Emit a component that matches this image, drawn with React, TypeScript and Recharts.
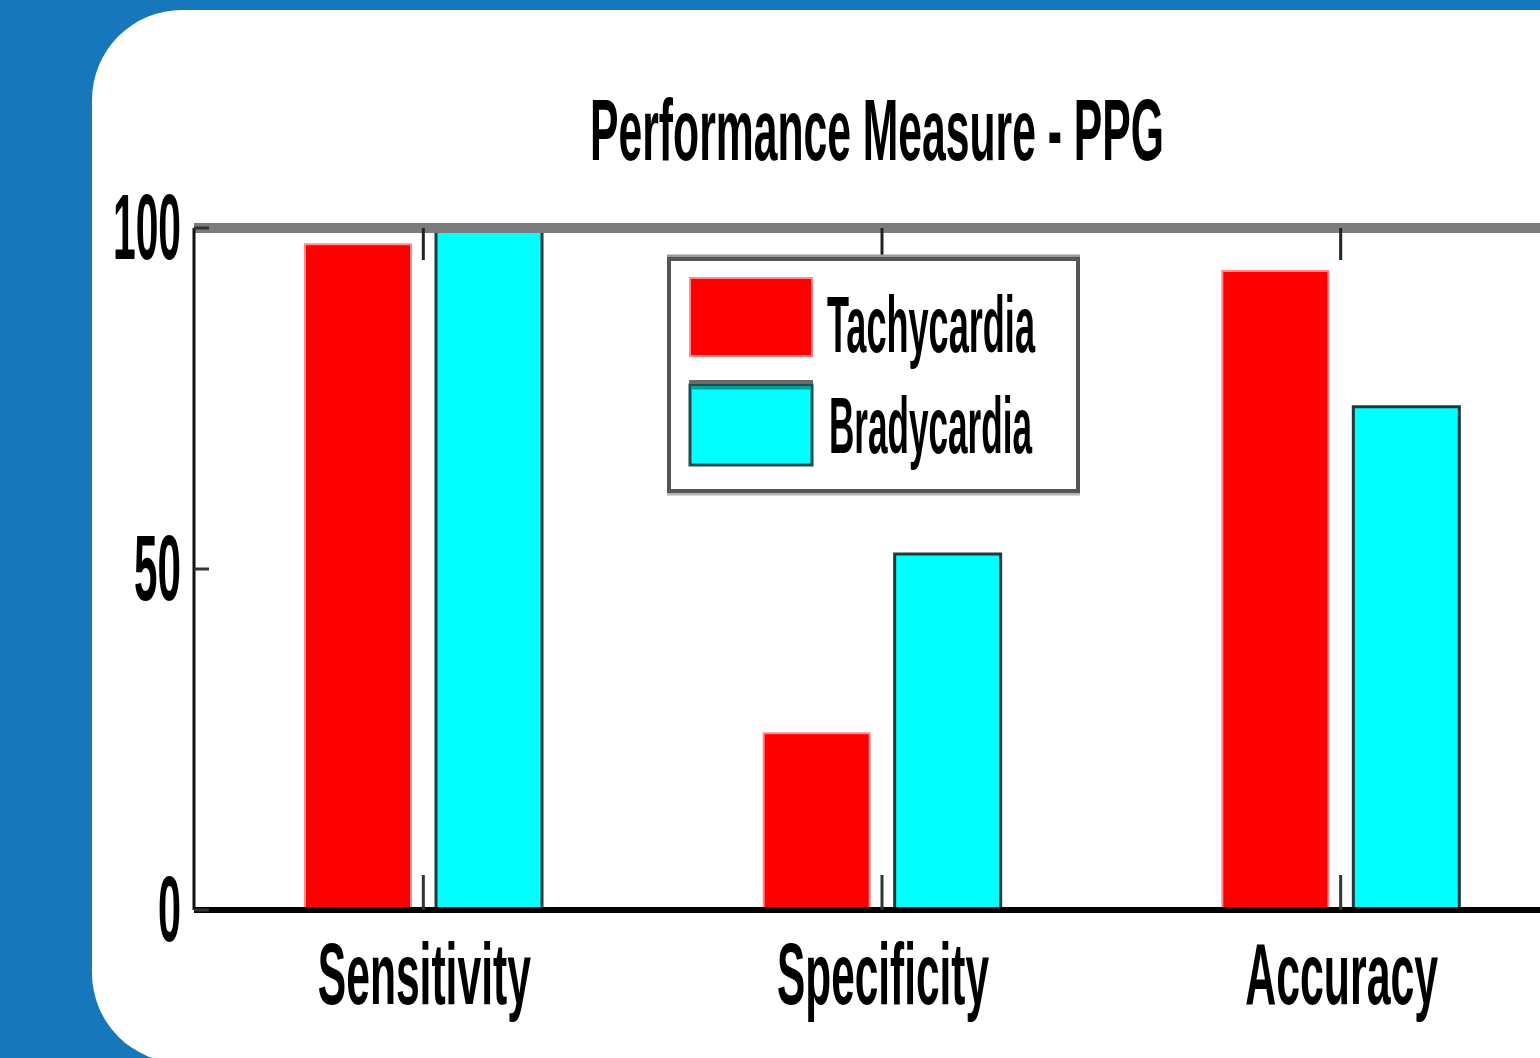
import React from 'react';
import { BarChart, Bar, XAxis, YAxis, Legend } from 'recharts';

const categories = ['Sensitivity', 'Specificity', 'Accuracy'];
const tachycardia = [97.6, 25.9, 93.7];
const bradycardia = [100, 52.2, 73.8];
const yTicks = [0, 50, 100];
const seriesNames = ['Tachycardia', 'Bradycardia'];
const titleText = 'Performance Measure - PPG';

const data = categories.map((c, i) => ({
  name: c,
  tachy: tachycardia[i],
  brady: bradycardia[i],
}));

// rendered widths of the condensed bitmap-like text (style only)
const TEXT_W: Record<string, number> = {
  'Performance Measure - PPG': 574,
  Sensitivity: 213,
  Specificity: 212,
  Accuracy: 193,
  '0': 23,
  '50': 47,
  '100': 68,
  Tachycardia: 208,
  Bradycardia: 203,
};

const FONT = '"Liberation Sans", Arial, sans-serif';
const WEIGHT = 'bold';

let measureCtx: CanvasRenderingContext2D | null = null;
const measure = (text: string, size: number) => {
  if (!measureCtx) {
    const c = document.createElement('canvas');
    measureCtx = c.getContext('2d');
  }
  if (!measureCtx) return text.length * size * 0.55;
  measureCtx.font = `${WEIGHT} ${size}px ${FONT}`;
  return measureCtx.measureText(text).width;
};

const CondensedText = (props: any) => {
  const { x, y, size, anchor = 'start', text } = props;
  const natural = measure(text, size);
  const target = TEXT_W[text] || natural;
  const s = natural > 0 ? target / natural : 1;
  return (
    <text transform={`translate(${x},${y}) scale(${s},1)`} x={0} y={0} textAnchor={anchor}
      fontSize={size} fontFamily={FONT} fontWeight={WEIGHT} fill="#000">
      {text}
    </text>
  );
};

const YTick = (props: any) => {
  const { x, y, payload } = props;
  return <CondensedText x={x} y={y + 31} size={92} anchor="end" text={String(payload.value)} />;
};

const XTick = (props: any) => {
  const { x, y, payload } = props;
  return <CondensedText x={x + 1} y={y} size={87} anchor="middle" text={String(payload.value)} />;
};

const EmptyTick = () => <g />;

const LegendBox = (props: any) => {
  const payload = [...(props.payload || [])].sort(
    (a: any, b: any) => seriesNames.indexOf(a.value) - seriesNames.indexOf(b.value)
  );
  return (
    <svg width={418} height={246} style={{ display: 'block' }}>
      <line x1={2} x2={415} y1={4} y2={4} stroke="#9a9a9a" strokeWidth={3} />
      <line x1={2} x2={415} y1={242} y2={242} stroke="#b4b4b4" strokeWidth={3} />
      <rect x={4} y={7} width={409} height={232} fill="#fff" stroke="#555" strokeWidth={4} />
      {payload.map((entry: any, i: number) => {
        const top = 25 + i * 103;
        const isRed = entry.value === seriesNames[0];
        return (
          <g key={entry.value}>
            {isRed ? (
              <rect x={25} y={top + 1} width={122} height={78} fill={entry.color} stroke="#ff8a8a" strokeWidth={2} />
            ) : (
              <g>
                <rect x={25} y={top + 5} width={122} height={80} fill={entry.color} stroke="#1e4d4d" strokeWidth={3} />
                <line x1={26} x2={146} y1={top + 8} y2={top + 8} stroke="#00a0a0" strokeWidth={3} />
                <line x1={24} x2={148} y1={top + 2} y2={top + 2} stroke="#6a6a6a" strokeWidth={4} />
              </g>
            )}
            <CondensedText x={isRed ? 162 : 164} y={100 + i * 101} size={80} text={entry.value} />
          </g>
        );
      })}
    </svg>
  );
};

export default function App() {
  return (
    <div style={{ position: 'absolute', left: 0, top: 0, width: 1540, height: 1058, overflow: 'hidden', background: '#1677ba' }}>
      <div style={{ position: 'absolute', left: 92, top: 10, width: 1600, height: 1053, borderRadius: 90, background: '#fff' }} />
      <div style={{ position: 'absolute', left: 0, top: 0 }}>
        <BarChart
          width={1700}
          height={1058}
          data={data}
          margin={{ top: 226, right: 130, bottom: 48, left: 94 }}
          barGap={25}
        >
          <CondensedText x={877} y={160} size={88} anchor="middle" text={titleText} />
          <XAxis
            xAxisId="top"
            dataKey="name"
            orientation="top"
            height={2}
            tick={<EmptyTick />}
            tickSize={-32}
            axisLine={{ stroke: '#7c7c7c', strokeWidth: 10 }}
            tickLine={{ stroke: '#222', strokeWidth: 3 }}
            interval={0}
          />
          <XAxis
            dataKey="name"
            height={100}
            tick={<XTick />}
            tickSize={-35}
            tickMargin={129}
            axisLine={{ stroke: '#000', strokeWidth: 6 }}
            tickLine={{ stroke: '#333', strokeWidth: 3 }}
            interval={0}
          />
          <YAxis
            width={100}
            domain={[0, 100]}
            ticks={yTicks}
            tick={<YTick />}
            tickSize={-15}
            tickMargin={28}
            axisLine={{ stroke: '#111', strokeWidth: 3 }}
            tickLine={{ stroke: '#333', strokeWidth: 3 }}
          />
          <Legend
            layout="horizontal"
            verticalAlign="middle"
            align="center"
            wrapperStyle={{ left: 665, top: 252, width: 418, height: 246 }}
            content={<LegendBox />}
          />
          <Bar dataKey="tachy" name={seriesNames[0]} fill="#ff0000" stroke="#ff8a8a" strokeWidth={2}
            barSize={106} isAnimationActive={false} />
          <Bar dataKey="brady" name={seriesNames[1]} fill="#00ffff" stroke="#1e3a3a" strokeWidth={3}
            barSize={106} isAnimationActive={false} />
        </BarChart>
      </div>
    </div>
  );
}
